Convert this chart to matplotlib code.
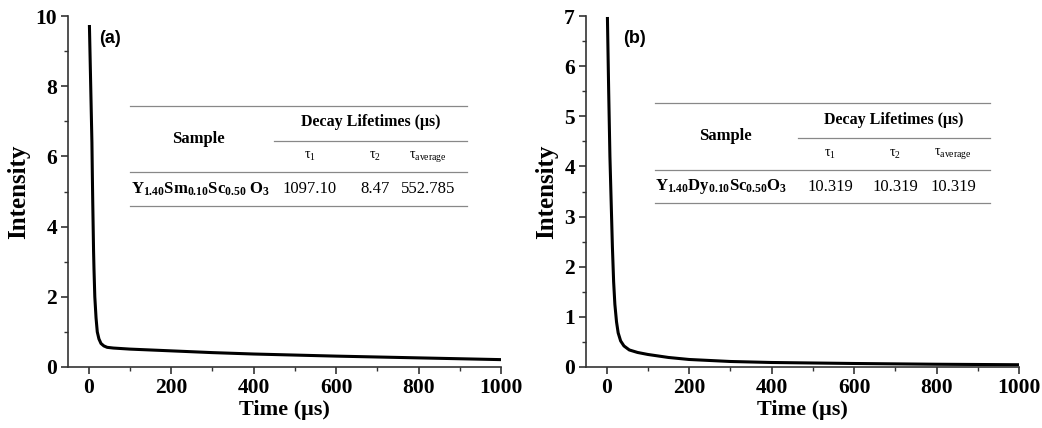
import numpy as np
import matplotlib.pyplot as plt
from matplotlib.ticker import MultipleLocator

plt.rcParams['font.family'] = 'Liberation Serif'
plt.rcParams['mathtext.fontset'] = 'custom'
plt.rcParams['mathtext.rm'] = 'Liberation Serif'
plt.rcParams['mathtext.bf'] = 'Liberation Serif:bold'
plt.rcParams['mathtext.it'] = 'Liberation Serif:italic'

# decay curves (time in us, intensity)
t_a = [2, 4, 6, 8, 9, 10, 11, 12, 13, 15, 18, 21, 25, 30, 37, 45, 60, 100,
       200, 300, 400, 500, 600, 700, 800, 900, 1000]
i_a = [9.7, 8.6, 7.5, 6.4, 5.5, 4.7, 4.0, 3.3, 2.8, 2.0, 1.4, 1.0, 0.8, 0.67,
       0.6, 0.56, 0.54, 0.51, 0.46, 0.41, 0.37, 0.34, 0.31, 0.285, 0.26,
       0.235, 0.21]

t_b = [2, 5, 8, 11, 14, 17, 20, 24, 28, 34, 42, 55, 75, 100, 150, 200, 300,
       400, 500, 600, 800, 1000]
i_b = [6.95, 5.5, 4.2, 3.3, 2.4, 1.7, 1.25, 0.9, 0.68, 0.52, 0.42, 0.34,
       0.29, 0.25, 0.19, 0.15, 0.11, 0.09, 0.08, 0.07, 0.055, 0.045]

samples = [r'$\mathbf{Y_{1.40}Sm_{0.10}Sc_{0.50}\ O_3}$',
           r'$\mathbf{Y_{1.40}Dy_{0.10}Sc_{0.50}O_3}$']
tau1 = ['1097.10', '10.319']
tau2 = ['8.47', '10.319']
tau_avg = ['552.785', '10.319']

W, H = 1042, 428
fig = plt.figure(figsize=(W / 100, H / 100), dpi=100)


def fx(px):
    return px / W


def fy(py):
    return 1 - py / H


def hline(x0, x1, y):
    fig.add_artist(plt.Line2D([fx(x0), fx(x1)], [fy(y), fy(y)],
                              color='#888888', lw=0.9))


def make_panel(left, t, y, ymax, letter, letter_x):
    ax = fig.add_axes([fx(left), fy(367), fx(433), 351 / H])
    ax.plot(t, y, color='black', lw=2.2)
    ax.set_xlim(-50, 1000)
    ax.set_ylim(0, ymax)
    ax.xaxis.set_major_locator(MultipleLocator(200))
    ax.xaxis.set_minor_locator(MultipleLocator(100))
    if ymax == 10:
        ax.yaxis.set_major_locator(MultipleLocator(2))
        ax.yaxis.set_minor_locator(MultipleLocator(1))
    else:
        ax.yaxis.set_major_locator(MultipleLocator(1))
        ax.yaxis.set_minor_locator(MultipleLocator(0.5))
    for s in ['top', 'right']:
        ax.spines[s].set_visible(False)
    for s in ['left', 'bottom']:
        ax.spines[s].set_linewidth(1.2)
        ax.spines[s].set_color('#333333')
    ax.tick_params(which='major', length=5, width=1.2, color='#333333',
                   labelsize=15.5, pad=3)
    ax.tick_params(which='minor', length=3, width=1.0, color='#333333')
    for lab in ax.get_xticklabels() + ax.get_yticklabels():
        lab.set_fontweight('bold')
    ax.set_xlabel('Time (μs)', fontsize=16, fontweight='bold', labelpad=1)
    ax.set_ylabel('Intensity', fontsize=18, fontweight='bold', labelpad=4)
    ax.text(letter_x, 0.935, letter, transform=ax.transAxes,
            family='Liberation Sans', fontweight='bold', fontsize=13,
            va='center', ha='left')
    return ax


def make_table(k, x0, x1, xm, xs, xf, xc, ys):
    top, mid, row, bot = ys
    hline(x0, x1, top)
    hline(xm, x1, mid)
    hline(x0, x1, row)
    hline(x0, x1, bot)
    fig.text(fx(xs), fy((top + row) / 2), 'Sample', fontsize=12,
             fontweight='bold', ha='center', va='center')
    fig.text(fx((xm + x1) / 2), fy((top + mid) / 2 - 1), 'Decay Lifetimes (μs)',
             fontsize=11.5, fontweight='bold', ha='center', va='center')
    heads = [r'$\mathrm{\tau_1}$', r'$\mathrm{\tau_2}$',
             r'$\mathrm{\tau_{average}}$']
    ty = (mid + row) / 2
    for x, h in zip(xc, heads):
        fig.text(fx(x), fy(ty), h, fontsize=10, ha='center', va='center')
    ry = (row + bot) / 2
    fig.text(fx(xf), fy(ry), samples[k],
             fontsize=12, ha='center', va='center')
    for x, v in zip(xc, [tau1[k], tau2[k], tau_avg[k]]):
        fig.text(fx(x), fy(ry), v, fontsize=12, ha='center', va='center')


make_panel(68, t_a, i_a, 10, '(a)', 0.072)
make_panel(586, t_b, i_b, 7, '(b)', 0.085)

make_table(0, 130, 467, 274, 198, 200, [310, 375, 428], [106, 141, 172, 206])
make_table(1, 655, 990, 798, 725, 721, [830, 895, 953], [103, 138, 170, 203])

fig.savefig('out.png', dpi=100)
